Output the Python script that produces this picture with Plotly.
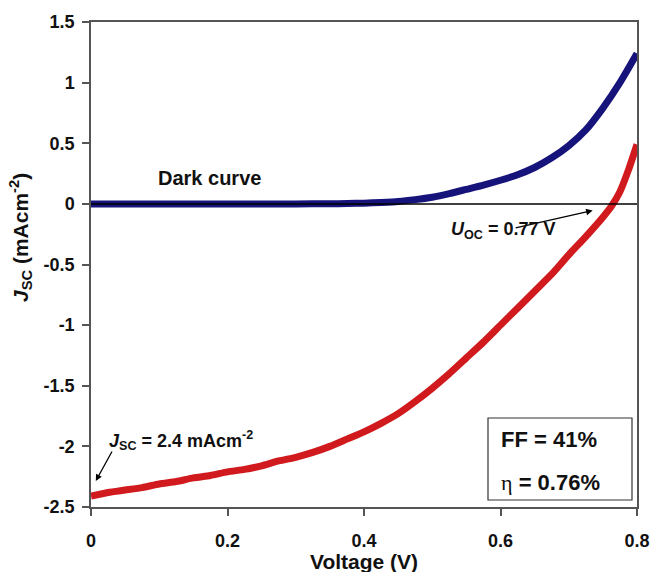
import plotly.graph_objects as go

# Data
voltage_light = [0.0, 0.025, 0.05, 0.075, 0.1, 0.125, 0.15, 0.175, 0.2, 0.225, 0.25,
                 0.275, 0.3, 0.325, 0.35, 0.375, 0.4, 0.425, 0.45, 0.475, 0.5, 0.525,
                 0.55, 0.575, 0.6, 0.625, 0.65, 0.675, 0.7, 0.725, 0.75, 0.7625, 0.775,
                 0.7875, 0.8]
current_light = [-2.41, -2.38, -2.36, -2.34, -2.31, -2.29, -2.26, -2.24, -2.21, -2.19, -2.16,
                 -2.12, -2.09, -2.05, -2.00, -1.94, -1.88, -1.81, -1.73, -1.63, -1.52, -1.40,
                 -1.27, -1.14, -1.00, -0.86, -0.72, -0.58, -0.42, -0.27, -0.11, -0.02, 0.10,
                 0.28, 0.49]

voltage_dark = [0.0, 0.05, 0.1, 0.15, 0.2, 0.25, 0.3, 0.35, 0.375, 0.4, 0.425, 0.45, 0.475,
                0.5, 0.525, 0.55, 0.575, 0.6, 0.625, 0.65, 0.675, 0.7, 0.725, 0.75, 0.775, 0.8]
current_dark = [0.0, 0.0, 0.0, 0.0, 0.0, 0.0, 0.0, 0.001, 0.003, 0.006, 0.012, 0.02, 0.035,
                0.055, 0.085, 0.12, 0.155, 0.195, 0.24, 0.30, 0.38, 0.48, 0.61, 0.79, 1.00, 1.24]

y_tick_vals = [1.5, 1.0, 0.5, 0.0, -0.5, -1.0, -1.5, -2.0, -2.5]
y_tick_text = ["1.5", "1", "0.5", "0", "-0.5", "-1", "-1.5", "-2", "-2.5"]
x_tick_vals = [0.0, 0.2, 0.4, 0.6, 0.8]
x_tick_text = ["0", "0.2", "0.4", "0.6", "0.8"]

NAVY = "#16147a"
RED = "#d01a1e"
FONT = "Liberation Sans"
TXT = "#111111"

# plot-area pixel geometry helpers (for annotation placement only)
L, R, T, B = 91, 15, 22, 65
PW, PH = 652 - L - R, 572 - T - B


def px(xp):
    return (xp - L) / PW


def py(yp):
    return (572 - B - yp) / PH


fig = go.Figure()
fig.add_trace(go.Scatter(x=voltage_dark, y=current_dark, mode="lines",
                         line=dict(color=NAVY, width=7, shape="spline", smoothing=0.6),
                         showlegend=False, hoverinfo="skip"))
fig.add_trace(go.Scatter(x=voltage_light, y=current_light, mode="lines",
                         line=dict(color=RED, width=7, shape="spline", smoothing=0.6),
                         showlegend=False, hoverinfo="skip"))

# zero line above the data
fig.add_shape(type="line", xref="paper", yref="y", x0=0, x1=1, y0=0, y1=0,
              line=dict(color="black", width=1.5), layer="above")

# FF / eta box
fig.add_shape(type="rect", xref="paper", yref="paper",
              x0=px(488), x1=px(632), y0=py(500), y1=py(418),
              line=dict(color="#333333", width=1.2), fillcolor="white", layer="above")

fig.add_annotation(x=px(499), y=py(439), xref="paper", yref="paper",
                   xanchor="left", yanchor="middle", showarrow=False,
                   text="<b>FF = 41%</b>", font=dict(family=FONT, size=22, color=TXT))
fig.add_annotation(x=px(499), y=py(482), xref="paper", yref="paper",
                   xanchor="left", yanchor="middle", showarrow=False,
                   text="<span style='font-family:Liberation Serif;font-weight:normal'>η</span><b> = 0.76%</b>",
                   font=dict(family=FONT, size=22, color=TXT))

fig.add_annotation(x=0.174, y=0.21, showarrow=False, text="<b>Dark curve</b>",
                   font=dict(family=FONT, size=20, color=TXT))

fig.add_annotation(x=0.735, y=-0.055, ax=0.62, ay=-0.2, axref="x", ayref="y",
                   text="", showarrow=True, arrowhead=2, arrowsize=1, arrowwidth=1.3,
                   arrowcolor="black", standoff=0)
fig.add_annotation(x=0.604, y=-0.22, showarrow=False,
                   text="<b><i>U</i><sub>OC</sub> = 0.77 V</b>",
                   font=dict(family=FONT, size=18, color=TXT))

fig.add_annotation(x=0.007, y=-2.285, ax=0.032, ay=-2.03, axref="x", ayref="y",
                   text="", showarrow=True, arrowhead=2, arrowsize=1, arrowwidth=1.3,
                   arrowcolor="black", standoff=0)
fig.add_annotation(x=0.132, y=-1.955, showarrow=False,
                   text="<b><i>J</i><sub>SC</sub> = 2.4 mAcm<sup>-2</sup></b>",
                   font=dict(family=FONT, size=18, color=TXT))

# axis titles
fig.add_annotation(x=px(364), y=py(561), xref="paper", yref="paper", showarrow=False,
                   xanchor="center", yanchor="middle",
                   text="<b>Voltage (V)</b>", font=dict(family=FONT, size=21, color=TXT))
fig.add_annotation(x=px(20), y=py(238), xref="paper", yref="paper", showarrow=False,
                   xanchor="center", yanchor="middle", textangle=-90,
                   text="<b><i>J</i><sub>SC</sub> (mAcm<sup>-2</sup>)</b>",
                   font=dict(family=FONT, size=21, color=TXT))

axis_common = dict(showgrid=False, zeroline=False, showline=True, mirror=True,
                   linecolor="#555555", linewidth=1.5, ticks="outside", ticklen=7,
                   tickcolor="#555555", tickwidth=1.5, automargin=False,
                   tickfont=dict(family=FONT, size=18, color=TXT, weight="bold"))

fig.update_xaxes(range=[0, 0.8], tickvals=x_tick_vals, ticktext=x_tick_text,
                 ticklabelstandoff=10, **axis_common)
fig.update_yaxes(range=[-2.5, 1.5], tickvals=y_tick_vals, ticktext=y_tick_text,
                 ticklabelstandoff=4, **axis_common)

fig.update_layout(width=652, height=572, margin=dict(l=L, r=R, t=T, b=B),
                  plot_bgcolor="white", paper_bgcolor="white")

fig.write_html("out.html", config={"displayModeBar": False},
               post_script="document.body.style.margin='0';document.body.style.overflow='hidden';")
